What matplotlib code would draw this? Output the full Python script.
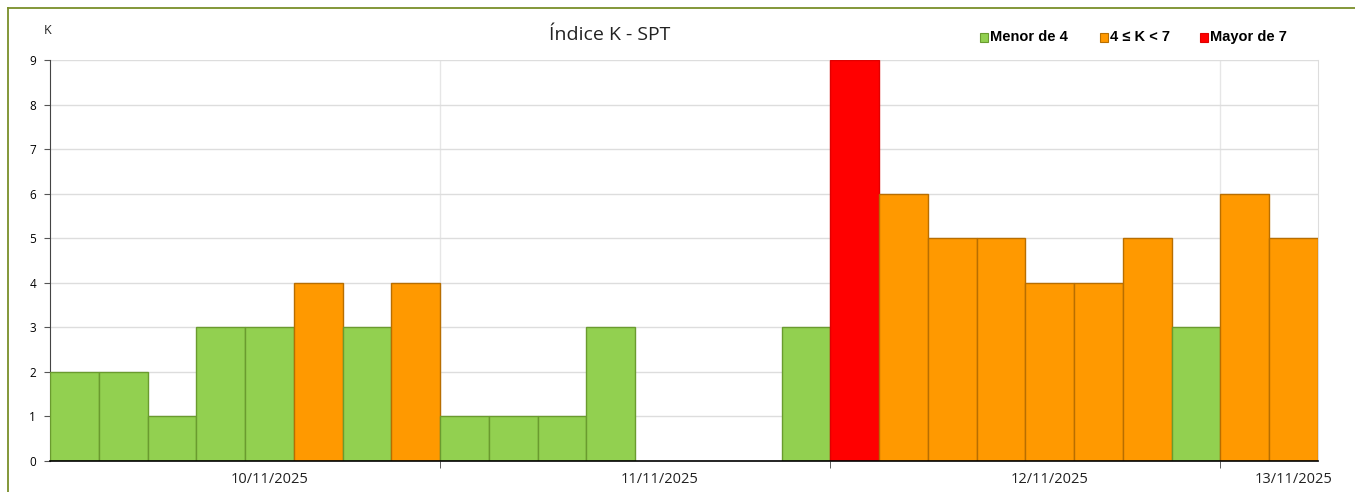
import numpy as np
import matplotlib.pyplot as plt
from matplotlib.patches import Rectangle

# K index values, 3-hour slots (8 per day)
k_values = [2, 2, 1, 3, 3, 4, 3, 4,
            1, 1, 1, 3, 0, 0, 0, 3,
            9, 6, 5, 5, 4, 4, 5, 3,
            6, 5]
day_labels = ['10/11/2025', '11/11/2025', '12/11/2025', '13/11/2025']
legend_labels = ['Menor de 4', '4 \u2264 K < 7', 'Mayor de 7']

fills = ['#92D050', '#FF9900', '#FF0000']
edges = ['#6A9B2F', '#B86E00', '#E00000']


def level(k):
    if k < 4:
        return 0
    if k < 7:
        return 1
    return 2


plt.rcParams['font.family'] = ['Open Sans', 'DejaVu Sans']

fig = plt.figure(figsize=(13.55, 4.92), dpi=100)
ax = fig.add_axes([50 / 1355, 1 - 461 / 492, 1268 / 1355, 401 / 492])

x = np.arange(len(k_values))
lv = [level(k) for k in k_values]
ax.bar(x, k_values, width=1.0, align='edge',
       color=[fills[i] for i in lv],
       edgecolor=[edges[i] if k > 0 else 'none' for i, k in zip(lv, k_values)],
       linewidth=1.0, zorder=3)

ax.set_xlim(0, len(k_values))
ax.set_ylim(0, 9)
ax.set_yticks(range(10))
ax.tick_params(axis='y', labelsize=8.5, length=4, color='#555555', pad=6)

# day boundaries as minor ticks, labels near day centres
ax.set_xticks([8, 16, 24], minor=True)
ax.set_xticks([4.5, 12.5, 20.5, 25.5])
ax.set_xticklabels(day_labels, fontsize=10.5, color='#222222')
ax.tick_params(axis='x', which='major', length=0, pad=8)
ax.tick_params(axis='x', which='minor', length=5, color='#444444')

ax.grid(axis='y', color='#DDDDDD', linewidth=1, zorder=0)
for d in [8, 16, 24]:
    ax.axvline(d, color='#E6E6E6', linewidth=1, zorder=0)

ax.spines['top'].set_visible(False)
ax.spines['right'].set_color('#DDDDDD')
ax.spines['left'].set_color('#444444')
ax.spines['bottom'].set_color('black')
ax.spines['bottom'].set_linewidth(1.2)
ax.spines['bottom'].set_zorder(4)

fig.text(610 / 1355, 1 - 35 / 492, '\u00cdndice K - SPT', ha='center', va='center',
         fontsize=14, color='#222222')
fig.text(48 / 1355, 1 - 30 / 492, 'K', ha='center', va='center', fontsize=9, color='#222222')

# legend
leg_x = [980, 1100, 1200]
for xp, lab, fc, ec in zip(leg_x, legend_labels, fills, edges):
    fig.patches.append(Rectangle((xp / 1355, 1 - 42 / 492), 8 / 1355, 9 / 492,
                                 transform=fig.transFigure, facecolor=fc,
                                 edgecolor=ec, linewidth=0.8))
    fig.text((xp + 10) / 1355, 1 - 37 / 492, lab, ha='left', va='center',
             fontsize=10.5, fontweight='bold', family='Liberation Sans', color='black')

# frame around chart (left and top visible)
fig.add_artist(plt.Line2D([8 / 1355, 8 / 1355], [0, 1 - 8 / 492],
                          transform=fig.transFigure, color='#7A8F2A', linewidth=1.3))
fig.add_artist(plt.Line2D([8 / 1355, 1], [1 - 8 / 492, 1 - 8 / 492],
                          transform=fig.transFigure, color='#7A8F2A', linewidth=1.3))

fig.savefig('out.png', dpi=100)
